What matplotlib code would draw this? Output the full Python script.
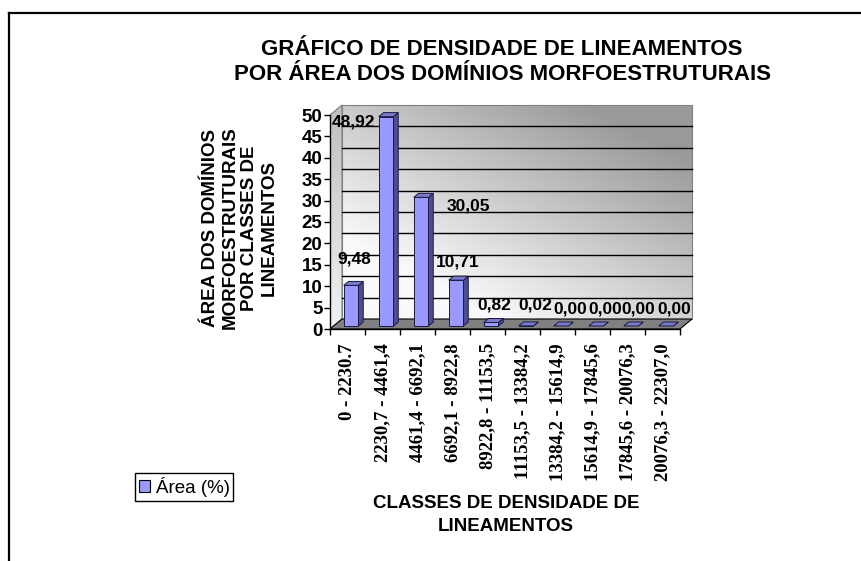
import numpy as np
import matplotlib
matplotlib.use("Agg")
import matplotlib.pyplot as plt
from matplotlib.patches import Polygon, Patch
from matplotlib.lines import Line2D

plt.rcParams["font.family"] = ["Liberation Sans", "DejaVu Sans"]

# ---- data -------------------------------------------------------------
classes = [
    "0 - 2230.7", "2230,7 - 4461,4", "4461,4 - 6692,1", "6692,1 - 8922,8",
    "8922,8 - 11153,5", "11153,5 - 13384,2", "13384,2 - 15614,9",
    "15614,9 - 17845,6", "17845,6 - 20076,3", "20076,3 - 22307,0",
]
area_pct = [9.48, 48.92, 30.05, 10.71, 0.82, 0.02, 0.00, 0.00, 0.00, 0.00]
y_ticks = list(range(0, 51, 5))
series_name = "Área (%)"

# value-label nudges in pixels (right, up) from the top of each bar
label_nudge = [(6.5, 29.4), (-29.5, -2), (51, -5.6), (5, 21), (6.5, 20.5),
               (12.5, 24), (12.5, 20.5), (12.5, 20.5), (10.5, 20.5),
               (11.5, 20.5)]

# ---- geometry of the pseudo-3D box ------------------------------------
W_PX, H_PX, DPI = 861, 561, 100
PX_PER_CAT = 35.0
PX_PER_UNIT = 4.28
X0_PX, Y0_PX = 330, 329
DX = 12 / PX_PER_CAT          # depth shift along x (category units)
DY = 10 / PX_PER_UNIT         # depth shift along y (value units)
NCAT = len(area_pct)
YTOP = 50
XMAX = NCAT + DX + 0.05
YMAX = YTOP + DY + 0.3
BAR_W = 0.42
BAR_FRONT = 0.3               # depth fraction of the bar front face
BAR_DEPTH = 0.4               # depth fraction occupied by the bar

fig = plt.figure(figsize=(W_PX / DPI, H_PX / DPI), dpi=DPI)
ax = fig.add_axes([X0_PX / W_PX, (H_PX - Y0_PX) / H_PX,
                   PX_PER_CAT * XMAX / W_PX, PX_PER_UNIT * YMAX / H_PX])
ax.set_xlim(0, XMAX)
ax.set_ylim(0, YMAX)
ax.patch.set_visible(False)

# back wall with a diagonal grey gradient
gy, gx = np.mgrid[0:1:200j, 0:1:200j]
t = np.clip(0.7 * gx + 0.8 * gy - 0.3, 0, 1)
shade = 0.98 - 0.38 * t
wall = np.dstack([shade, shade, shade])
ax.imshow(wall, extent=(DX, NCAT + DX, DY, YTOP + DY), origin="lower",
          aspect="auto", zorder=0, interpolation="bilinear")
ax.add_patch(Polygon([(DX, DY), (NCAT + DX, DY), (NCAT + DX, YTOP + DY),
                      (DX, YTOP + DY)], closed=True, fill=False,
                     edgecolor="#808080", lw=0.8, zorder=1))

# side wall
sy = np.linspace(0, 1, 100)[:, None] * np.ones((1, 10))
sshade = 0.95 - 0.2 * sy
side_img = ax.imshow(np.dstack([sshade] * 3), extent=(0, DX, 0, YTOP + DY),
                     origin="lower", aspect="auto", zorder=0)
side_poly = Polygon([(0, 0), (DX, DY), (DX, YTOP + DY), (0, YTOP)],
                    closed=True, fill=False, edgecolor="#808080", lw=0.8,
                    zorder=1)
ax.add_patch(side_poly)
side_img.set_clip_path(side_poly)

# gridlines on the back wall
for v in y_ticks[1:-1]:
    ax.plot([DX, NCAT + DX], [v + DY, v + DY], color="black", lw=1.0,
            zorder=1.5)

# floor
ax.add_patch(Polygon([(0, 0), (NCAT, 0), (NCAT + DX, DY), (DX, DY)],
                     closed=True, facecolor="#808080", edgecolor="black",
                     lw=0.8, zorder=2))

# bars
front_c, top_c, side_c, edge_c = "#9999ff", "#7a7acc", "#4d4d8f", "#1a1a40"
for i, v in enumerate(area_pct):
    x0 = i + 0.5 - BAR_W / 2 + BAR_FRONT * DX
    y0 = BAR_FRONT * DY
    bx, by = BAR_DEPTH * DX, BAR_DEPTH * DY
    ax.add_patch(Polygon([(x0 + BAR_W, y0), (x0 + BAR_W + bx, y0 + by),
                          (x0 + BAR_W + bx, y0 + v + by), (x0 + BAR_W, y0 + v)],
                         closed=True, facecolor=side_c, edgecolor=edge_c,
                         lw=0.7, zorder=3))
    ax.add_patch(Polygon([(x0, y0 + v), (x0 + BAR_W, y0 + v),
                          (x0 + BAR_W + bx, y0 + v + by), (x0 + bx, y0 + v + by)],
                         closed=True, facecolor=top_c, edgecolor=edge_c,
                         lw=0.7, zorder=3))
    if v > 0:
        ax.add_patch(Polygon([(x0, y0), (x0 + BAR_W, y0), (x0 + BAR_W, y0 + v),
                              (x0, y0 + v)], closed=True, facecolor=front_c,
                             edgecolor=edge_c, lw=0.7, zorder=3))

# value labels
for i, v in enumerate(area_pct):
    dx, dy = label_nudge[i]
    ax.annotate(f"{v:.2f}".replace(".", ","), xy=(i + 0.5, v),
                xytext=(dx, dy), textcoords="offset pixels",
                ha="center", va="center", fontsize=12.5, fontweight="bold",
                zorder=5)

# axes, ticks and tick labels
for s in ("top", "right"):
    ax.spines[s].set_visible(False)
ax.spines["left"].set_bounds(0, YTOP)
ax.spines["bottom"].set_bounds(0, NCAT)
for s in ("left", "bottom"):
    ax.spines[s].set_linewidth(1.0)
    ax.spines[s].set_zorder(4)

ax.set_yticks(y_ticks)
ax.set_yticklabels([str(v) for v in y_ticks], fontsize=13.5, fontweight="bold")
ax.tick_params(axis="y", direction="out", length=4.5, width=1, pad=1)

ax.set_xticks(np.arange(NCAT + 1))
ax.set_xticklabels([])
ax.set_xticks(np.arange(NCAT) + 0.5, minor=True)
ax.set_xticklabels(classes, minor=True, rotation=90, fontsize=13.5,
                   fontweight="bold", family="Liberation Serif")
ax.tick_params(axis="x", which="major", direction="out", length=4, width=1)
ax.tick_params(axis="x", which="minor", length=0, pad=10)

# titles
fig.text(502 / W_PX, 1 - 62 / H_PX,
         "GRÁFICO DE DENSIDADE DE LINEAMENTOS\nPOR ÁREA DOS DOMÍNIOS MORFOESTRUTURAIS",
         ha="center", va="center", fontsize=16, fontweight="bold",
         linespacing=1.3)
fig.text(240 / W_PX, 1 - 228 / H_PX,
         "ÁREA DOS DOMÍNIOS\nMORFOESTRUTURAIS\nPOR CLASSES DE\nLINEAMENTOS",
         ha="center", va="center", rotation=90, multialignment="center",
         fontsize=13.5, fontweight="bold", linespacing=1.2)
fig.text(506 / W_PX, 1 - 515 / H_PX, "CLASSES DE DENSIDADE DE\nLINEAMENTOS",
         ha="center", va="center", multialignment="center", fontsize=13.5,
         fontweight="bold", linespacing=1.45)

# legend
handle = Patch(facecolor=front_c, edgecolor="black", lw=0.8)
fig.legend([handle], [series_name], loc="upper left",
           bbox_to_anchor=(135 / W_PX, 1 - 473 / H_PX), fontsize=13.5,
           frameon=True, fancybox=False, edgecolor="black", framealpha=1,
           handlelength=0.6, handleheight=0.6, handletextpad=0.3,
           borderpad=0.2, borderaxespad=0)

# chart frame (top and left edges)
fig.add_artist(Line2D([9 / W_PX, 1], [1 - 12.5 / H_PX, 1 - 12.5 / H_PX],
                      color="black", lw=1.6, transform=fig.transFigure))
fig.add_artist(Line2D([9 / W_PX, 9 / W_PX], [1 - 12.5 / H_PX, 0],
                      color="black", lw=1.6, transform=fig.transFigure))

fig.savefig("out.png", dpi=DPI)
